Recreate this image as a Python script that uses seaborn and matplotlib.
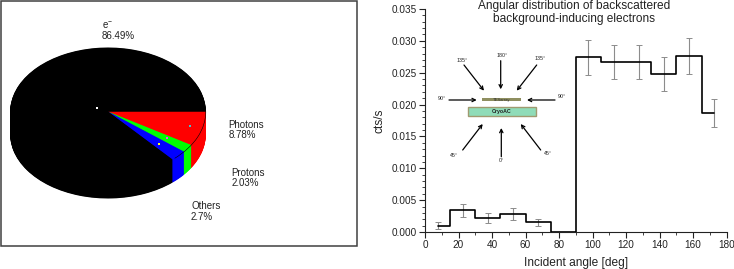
import numpy as np
import seaborn as sns
import matplotlib.pyplot as plt
from matplotlib.patches import Rectangle, Arc
from matplotlib.ticker import MultipleLocator

W, H = 734, 269

# pie values, clockwise from the 3 o'clock edge
pie_names = ['Photons', 'Protons', 'Others', 'e$^{-}$']
pie_values = [8.78, 2.03, 2.7, 86.49]
pie_text = ['8.78%', '2.03%', '2.7%', '86.49%']
pie_colors = ['#ff0000', '#00ff00', '#0000ff', 'black']

# histogram values
angles = [7.5, 22.5, 37.5, 52.5, 67.5, 82.5, 97.5, 112.5, 127.5, 142.5, 157.5, 172.5]
rates = [0.0010, 0.0034, 0.0022, 0.0028, 0.0015, 0.0, 0.0274, 0.0267, 0.0267, 0.0248, 0.0276, 0.0187]
errors = [0.0005, 0.0010, 0.0008, 0.0009, 0.0006, np.nan, 0.0028, 0.0027, 0.0027, 0.0026, 0.0028, 0.0022]

sns.set_style('ticks')
plt.rcParams['font.family'] = ['Liberation Sans', 'DejaVu Sans']
plt.rcParams['mathtext.default'] = 'regular'

fig = plt.figure(figsize=(W / 100, H / 100), dpi=100)

# overlay in pixel coordinates, for the frame, labels and the inset drawing
bg = fig.add_axes([0, 0, 1, 1])
bg.set_xlim(0, W)
bg.set_ylim(H, 0)
bg.axis('off')
bg.add_patch(Rectangle((0.7, 0.7), 356.3, 244.8, fc='white', ec='#404040', lw=1.1))


def px_axes(x0, y0, x1, y1):
    return fig.add_axes([x0 / W, 1 - y1 / H, (x1 - x0) / W, (y1 - y0) / H])


# pie, squashed into an ellipse, with a stack of layers for the side
cx, cy, rx, ry, depth = 108.0, 111.5, 97.8, 64.0, 23.0
pie_ax = px_axes(cx - rx - 2, cy - ry - 2, cx + rx + 2, cy + ry + depth + 2)
for d in np.arange(depth, -0.5, -0.5):
    pie_ax.pie(pie_values, colors=pie_colors, startangle=0, counterclock=False,
               center=(0, -d / ry), radius=1, wedgeprops={'linewidth': 0})
pie_ax.set_aspect('auto')
pie_ax.set_xlim(-(rx + 2) / rx, (rx + 2) / rx)
pie_ax.set_ylim(-(ry + depth + 2) / ry, (ry + 2) / ry)
pie_ax.axis('off')
pie_ax.add_patch(Arc((0, 0), 2, 2, theta1=-47, theta2=0, color='black', lw=0.4))

for (x, y), c in zip([(96.5, 107.5), (189.5, 125.7), (166.5, 138), (159, 143.7)],
                     ['white', '#40c0d0', '#ff40ff', '#ffff20']):
    fig.add_artist(plt.Line2D([x / W], [1 - y / H], marker='s', ms=1.6, mew=0, color=c, zorder=10))

label_pos = [(228.3, 130), (231.3, 178), (191, 211.5), (101.5, 30.5)]
for name, txt, (x, y) in zip(pie_names, pie_text, label_pos):
    bg.text(x, y, name + '\n' + txt, fontsize=7, color='#222222', va='center', ha='left', linespacing=1.1)

# angular distribution
ax = px_axes(425, 9, 726.7, 232)
sns.lineplot(x=angles, y=rates, drawstyle='steps-mid', color='black', lw=1.2, ax=ax, zorder=3)
ax.errorbar(angles, rates, yerr=errors, fmt='none', ecolor='#8c8c8c', elinewidth=0.8,
            capsize=2, capthick=0.7, zorder=2)
ax.patch.set_alpha(0)
ax.set_xlim(0, 180)
ax.set_ylim(0, 0.035)
ax.xaxis.set_major_locator(MultipleLocator(20))
ax.xaxis.set_minor_locator(MultipleLocator(10))
ax.yaxis.set_major_locator(MultipleLocator(0.005))
ax.yaxis.set_minor_locator(MultipleLocator(0.001))
ax.yaxis.set_major_formatter('{x:.3f}')
ax.tick_params(which='major', length=4, width=0.8, pad=2, labelsize=7.2, color='#222222', labelcolor='#222222')
ax.tick_params(which='minor', length=2, width=0.6, color='#222222')
ax.set_xlabel('Incident angle [deg]', fontsize=8.6, color='#222222', labelpad=5)
ax.set_ylabel('cts/s', fontsize=8.6, color='#222222', labelpad=4)
sns.despine(ax=ax)
for s in ['left', 'bottom']:
    ax.spines[s].set_linewidth(0.8)
    ax.spines[s].set_color('#222222')
bg.text(574, 12.8, 'Angular distribution of backscattered\nbackground-inducing electrons',
        fontsize=8.6, color='#222222', ha='center', va='center', linespacing=1.15)

# inset drawing of the detector
arrows = [((464, 65), (484, 90.7)), ((500.7, 60.7), (500.7, 89.3)), ((536.7, 65), (516.7, 90.7)),
          ((449, 100), (476.7, 100)), ((555, 100), (527, 100)), ((462.7, 150), (482.7, 124)),
          ((501.3, 156.7), (501.3, 128)), ((540.7, 150), (520.7, 124))]
for start, end in arrows:
    bg.annotate('', xy=end, xytext=start,
                arrowprops=dict(arrowstyle='->', color='black', lw=0.9, mutation_scale=6,
                                shrinkA=0, shrinkB=0))
angle_labels = [('135°', 461.7, 60), ('180°', 502, 55.7), ('135°', 540, 59), ('90°', 441.7, 98),
                ('90°', 562, 96.3), ('45°', 454, 155.3), ('0°', 501.3, 160.7), ('45°', 548, 153.3)]
for txt, x, y in angle_labels:
    bg.text(x, y, txt, fontsize=3.8, color='#222222', ha='center', va='center')
bg.add_patch(Rectangle((482, 98), 38.7, 3.3, fc='#8f8f60', ec='none'))
bg.text(501.3, 99.7, 'TESarray', fontsize=3, color='#333333', ha='center', va='center')
bg.add_patch(Rectangle((467.5, 106.5), 68.5, 9.5, fc='#8fdcb8', ec='#a09a70', lw=1))
bg.text(501.5, 111.3, 'CryoAC', fontsize=3.8, color='#222222', ha='center', va='center', fontweight='bold')

bg.set_zorder(5)
pie_ax.set_zorder(6)
fig.savefig('out.png', dpi=100)
